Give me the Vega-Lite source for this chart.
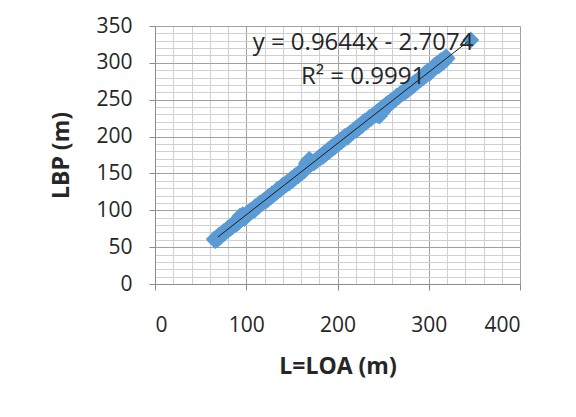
{
  "$schema": "https://vega.github.io/schema/vega-lite/v6.json",
  "width": 365,
  "height": 258,
  "autosize": {"type": "none"},
  "padding": {"left": 155, "top": 26, "right": 56, "bottom": 133},
  "background": "white",
  "config": {
    "view": {"stroke": null},
    "font": "Open Sans",
    "axis": {"labelFont": "Open Sans", "titleFont": "Open Sans"}
  },
  "datasets": {
    "pts": [
      {"L":65,"LBP":61},{"L":66,"LBP":59},{"L":68,"LBP":63},{"L":68,"LBP":60},{"L":70,"LBP":66},{"L":71,"LBP":63},{"L":72,"LBP":67},{"L":74,"LBP":68},{"L":75,"LBP":71},{"L":76,"LBP":69},
      {"L":78,"LBP":73},{"L":79,"LBP":72},{"L":80,"LBP":76},{"L":82,"LBP":75},{"L":83,"LBP":78},{"L":84,"LBP":77},{"L":85,"LBP":81},{"L":86,"LBP":79},{"L":88,"LBP":83},{"L":89,"LBP":81},
      {"L":90,"LBP":86},{"L":91,"LBP":83},{"L":92,"LBP":88},{"L":93,"LBP":92},{"L":94,"LBP":87},{"L":95,"LBP":90},{"L":96,"LBP":94},{"L":97,"LBP":91},{"L":98,"LBP":89},{"L":100,"LBP":95},
      {"L":101,"LBP":93},{"L":102,"LBP":97},{"L":104,"LBP":97},{"L":105,"LBP":100},{"L":106,"LBP":98},{"L":108,"LBP":102},{"L":109,"LBP":100},{"L":110,"LBP":105},{"L":112,"LBP":104},{"L":113,"LBP":107},
      {"L":114,"LBP":106},{"L":115,"LBP":110},{"L":117,"LBP":109},{"L":118,"LBP":112},{"L":120,"LBP":114},{"L":121,"LBP":112},{"L":123,"LBP":117},{"L":124,"LBP":115},{"L":125,"LBP":119},{"L":127,"LBP":118},
      {"L":128,"LBP":122},{"L":130,"LBP":123},{"L":131,"LBP":122},{"L":133,"LBP":127},{"L":134,"LBP":125},{"L":135,"LBP":129},{"L":137,"LBP":128},{"L":138,"LBP":131},{"L":140,"LBP":134},{"L":141,"LBP":132},
      {"L":143,"LBP":136},{"L":144,"LBP":135},{"L":145,"LBP":138},{"L":147,"LBP":137},{"L":148,"LBP":141},{"L":150,"LBP":143},{"L":151,"LBP":141},{"L":153,"LBP":146},{"L":154,"LBP":144},{"L":155,"LBP":148},
      {"L":157,"LBP":147},{"L":158,"LBP":151},{"L":160,"LBP":152},{"L":161,"LBP":151},{"L":163,"LBP":156},{"L":164,"LBP":154},{"L":165,"LBP":158},{"L":166,"LBP":163},{"L":167,"LBP":166},{"L":168,"LBP":160},
      {"L":169,"LBP":169},{"L":170,"LBP":163},{"L":171,"LBP":167},{"L":173,"LBP":165},{"L":174,"LBP":164},{"L":175,"LBP":167},{"L":177,"LBP":167},{"L":178,"LBP":170},{"L":180,"LBP":172},{"L":181,"LBP":171},
      {"L":183,"LBP":175},{"L":184,"LBP":173},{"L":185,"LBP":177},{"L":187,"LBP":176},{"L":188,"LBP":180},{"L":190,"LBP":182},{"L":191,"LBP":180},{"L":193,"LBP":185},{"L":194,"LBP":183},{"L":195,"LBP":187},
      {"L":197,"LBP":186},{"L":198,"LBP":190},{"L":200,"LBP":192},{"L":201,"LBP":190},{"L":203,"LBP":195},{"L":204,"LBP":193},{"L":205,"LBP":197},{"L":207,"LBP":196},{"L":208,"LBP":200},{"L":210,"LBP":201},
      {"L":211,"LBP":199},{"L":213,"LBP":204},{"L":214,"LBP":203},{"L":215,"LBP":206},{"L":217,"LBP":206},{"L":218,"LBP":209},{"L":220,"LBP":211},{"L":221,"LBP":209},{"L":223,"LBP":214},{"L":224,"LBP":212},
      {"L":225,"LBP":216},{"L":227,"LBP":215},{"L":228,"LBP":219},{"L":230,"LBP":221},{"L":231,"LBP":219},{"L":233,"LBP":223},{"L":234,"LBP":222},{"L":235,"LBP":226},{"L":237,"LBP":225},{"L":238,"LBP":228},
      {"L":240,"LBP":230},{"L":241,"LBP":229},{"L":243,"LBP":233},{"L":244,"LBP":229},{"L":245,"LBP":235},{"L":246,"LBP":228},{"L":247,"LBP":231},{"L":248,"LBP":238},{"L":249,"LBP":233},{"L":250,"LBP":240},
      {"L":251,"LBP":236},{"L":253,"LBP":243},{"L":254,"LBP":241},{"L":255,"LBP":245},{"L":257,"LBP":244},{"L":258,"LBP":248},{"L":260,"LBP":249},{"L":261,"LBP":248},{"L":263,"LBP":252},{"L":264,"LBP":251},
      {"L":265,"LBP":255},{"L":267,"LBP":254},{"L":268,"LBP":257},{"L":270,"LBP":259},{"L":271,"LBP":258},{"L":273,"LBP":262},{"L":274,"LBP":260},{"L":275,"LBP":264},{"L":277,"LBP":263},{"L":278,"LBP":267},
      {"L":280,"LBP":269},{"L":281,"LBP":267},{"L":283,"LBP":272},{"L":284,"LBP":270},{"L":285,"LBP":274},{"L":287,"LBP":273},{"L":288,"LBP":276},{"L":290,"LBP":279},{"L":291,"LBP":277},{"L":293,"LBP":281},
      {"L":294,"LBP":280},{"L":295,"LBP":284},{"L":296,"LBP":286},{"L":297,"LBP":283},{"L":298,"LBP":286},{"L":299,"LBP":289},{"L":300,"LBP":288},{"L":301,"LBP":286},{"L":303,"LBP":291},{"L":304,"LBP":290},
      {"L":305,"LBP":293},{"L":306,"LBP":296},{"L":307,"LBP":293},{"L":308,"LBP":296},{"L":309,"LBP":299},{"L":310,"LBP":298},{"L":311,"LBP":296},{"L":312,"LBP":301},{"L":313,"LBP":303},{"L":314,"LBP":299},
      {"L":315,"LBP":303},{"L":316,"LBP":305},{"L":317,"LBP":302},{"L":318,"LBP":306},{"L":319,"LBP":308},{"L":320,"LBP":306},{"L":346,"LBP":331}
    ],
    "labels": [
      {"L": 228, "LBP": 327, "label": "y = 0.9644x - 2.7074"},
      {"L": 228, "LBP": 281, "label": "R² = 0.9991"}
    ]
  },
  "layer": [
    {
      "data": {"name": "pts"},
      "mark": {"type": "point", "shape": "diamond", "filled": true, "size": 290, "color": "#5B9BD5", "opacity": 1},
      "encoding": {
        "x": {"field": "L", "type": "quantitative", "scale": {"domain": [0, 400], "nice": false, "zero": true},
          "axis": {"orient": "bottom", "values": [0,20,40,60,80,100,120,140,160,180,200,220,240,260,280,300,320,340,360,380,400],
            "grid": true, "gridColor": "#D0D0D0", "gridWidth": 1, "labels": false, "ticks": false, "domain": false, "title": null}},
        "y": {"field": "LBP", "type": "quantitative", "scale": {"domain": [0, 350], "nice": false, "zero": true},
          "axis": {"orient": "left", "values": [0,10,20,30,40,50,60,70,80,90,100,110,120,130,140,150,160,170,180,190,200,210,220,230,240,250,260,270,280,290,300,310,320,330,340,350],
            "grid": true, "gridColor": "#D0D0D0", "gridWidth": 1, "labels": false, "ticks": false, "domain": false, "title": null}}
      }
    },
    {
      "data": {"name": "pts"},
      "transform": [{"regression": "LBP", "on": "L", "extent": [69, 343]}],
      "mark": {"type": "line", "color": "#1a1a1a", "strokeWidth": 1},
      "encoding": {
        "x": {"field": "L", "type": "quantitative", "scale": {"domain": [0, 400], "nice": false},
          "axis": {"orient": "bottom", "values": [0,100,200,300,400], "grid": true, "gridColor": "#A0A0A0", "gridWidth": 1,
            "domain": true, "domainColor": "#8C8C8C", "tickColor": "#8C8C8C", "tickSize": 6,
            "labelFontSize": 21, "labelColor": "#262626", "labelPadding": 24,
            "title": "L=LOA (m)", "titleFontSize": 23, "titleFontWeight": "bold", "titleColor": "#262626", "titlePadding": 20}},
        "y": {"field": "LBP", "type": "quantitative", "scale": {"domain": [0, 350], "nice": false},
          "axis": {"orient": "left", "values": [0,50,100,150,200,250,300,350], "grid": true, "gridColor": "#A0A0A0", "gridWidth": 1,
            "domain": true, "domainColor": "#8C8C8C", "tickColor": "#8C8C8C", "tickSize": 6,
            "labelFontSize": 21, "labelColor": "#262626", "labelPadding": 17,
            "title": "LBP (m)", "titleFontSize": 23, "titleFontWeight": "bold", "titleColor": "#262626", "titlePadding": 22}}
      }
    },
    {
      "data": {"name": "labels"},
      "mark": {"type": "text", "fontSize": 24, "color": "#262626", "align": "center", "baseline": "middle"},
      "encoding": {
        "x": {"field": "L", "type": "quantitative", "axis": null},
        "y": {"field": "LBP", "type": "quantitative", "axis": null},
        "text": {"field": "label"}
      }
    }
  ],
  "resolve": {"axis": {"x": "independent", "y": "independent"}}
}
